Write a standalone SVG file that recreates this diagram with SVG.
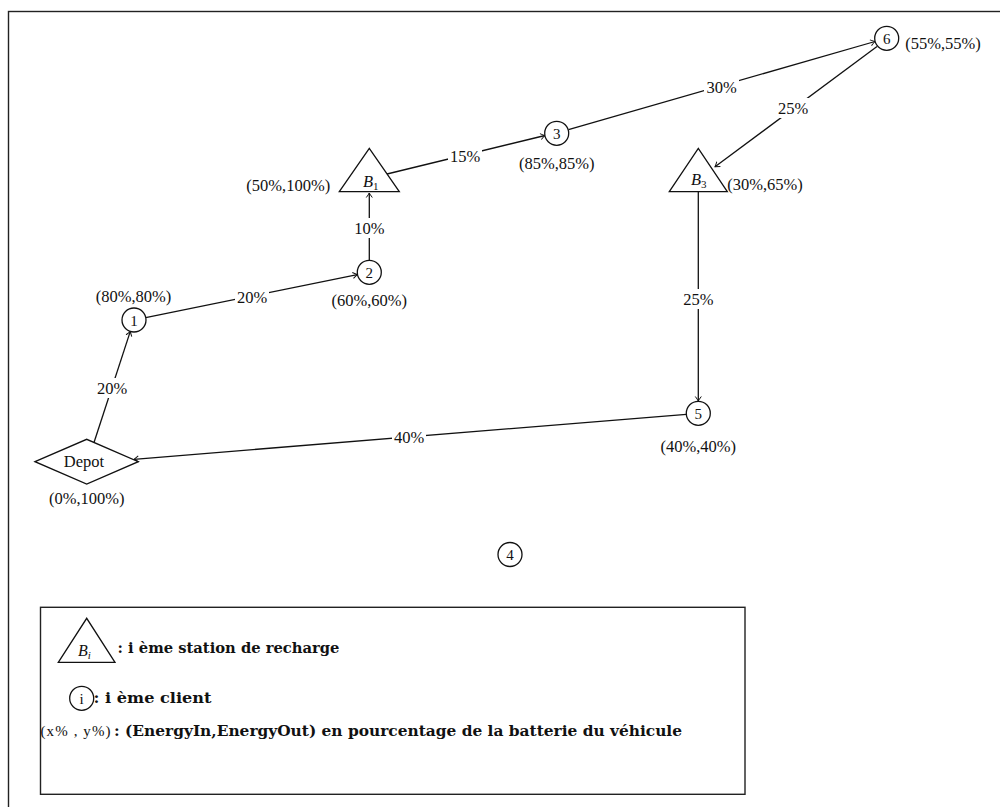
<svg xmlns="http://www.w3.org/2000/svg" width="1000" height="807" viewBox="0 0 1000 807">
<style>
text{font-family:"Liberation Serif","Times New Roman",serif;fill:#111;}
.lbl{font-size:16.5px;text-anchor:middle;dominant-baseline:central;}
.nd{font-size:15px;text-anchor:middle;dominant-baseline:central;}
.shape{fill:#fff;stroke:#111;stroke-width:1.3;}
.edge{fill:none;stroke:#111;stroke-width:1.3;marker-end:url(#arr);}
.bg{fill:#fff;stroke:none;}
.leg{font-family:"DejaVu Serif","Liberation Serif",serif;font-size:14px;font-weight:bold;}
.frame{fill:none;stroke:#222;stroke-width:1.4;}
</style>
<defs>
<marker id="arr" viewBox="-5 -4 6 8" markerWidth="6" markerHeight="8" refX="0" refY="0" orient="auto" markerUnits="userSpaceOnUse">
<path d="M-4.5,-3 Q-1.5,-0.8 0,0 Q-1.5,0.8 -4.5,3" fill="none" stroke="#111" stroke-width="1"/>
</marker>
</defs>
<rect width="1000" height="807" fill="#fff"/>
<rect class="frame" x="8.5" y="11.5" width="1000" height="810"/>

<g id="connectors">
<line class="edge" x1="94" y1="442.5" x2="130.3" y2="331.4"/>
<line class="edge" x1="145.7" y1="317.6" x2="357.3" y2="274.6"/>
<line class="edge" x1="369.3" y1="260.3" x2="369.3" y2="193"/>
<line class="edge" x1="387" y1="174" x2="545" y2="135.5"/>
<line class="edge" x1="568.5" y1="129.7" x2="875" y2="41.5"/>
<line class="edge" x1="877" y1="46.5" x2="715" y2="166.7"/>
<line class="edge" x1="698.3" y1="192" x2="698.3" y2="401"/>
<line class="edge" x1="686.3" y1="414.3" x2="134" y2="459.3"/>
<rect class="bg" x="95" y="378" width="34" height="20"/>
<text class="lbl" x="112" y="388">20%</text>
<rect class="bg" x="235" y="287" width="34" height="20"/>
<text class="lbl" x="252" y="297">20%</text>
<rect class="bg" x="352" y="218" width="34" height="20"/>
<text class="lbl" x="369.3" y="228">10%</text>
<rect class="bg" x="448" y="146" width="34" height="20"/>
<text class="lbl" x="465" y="156">15%</text>
<rect class="bg" x="704" y="77" width="35" height="20"/>
<text class="lbl" x="721.5" y="87">30%</text>
<rect class="bg" x="776" y="98" width="34" height="20"/>
<text class="lbl" x="793" y="108">25%</text>
<rect class="bg" x="681" y="289" width="34" height="20"/>
<text class="lbl" x="698.3" y="299">25%</text>
<rect class="bg" x="392" y="427" width="34" height="20"/>
<text class="lbl" x="409" y="437">40%</text>
</g>

<g id="depot">
<polygon class="shape" points="35,461.7 86.7,439.3 138.3,461.7 86.7,484"/>
<text class="lbl" x="84" y="461.7">Depot</text>
<text class="lbl" x="86.7" y="498.5">(0%,100%)</text>
</g>
<g id="n1">
<circle class="shape" cx="134" cy="320" r="12"/>
<text class="nd" x="134" y="320.5">1</text>
<text class="lbl" x="133.5" y="296.5">(80%,80%)</text>
</g>
<g id="n2">
<circle class="shape" cx="369.3" cy="272.3" r="12"/>
<text class="nd" x="369.3" y="272.8">2</text>
<text class="lbl" x="369.3" y="300">(60%,60%)</text>
</g>
<g id="b1">
<polygon class="shape" points="339.3,191.7 369.3,148.3 399.3,191.7"/>
<text x="363" y="186.5" font-size="16.5" font-style="italic">B<tspan font-size="11" font-style="normal" dy="3">1</tspan></text>
<text class="lbl" x="288.3" y="185">(50%,100%)</text>
</g>
<g id="n3">
<circle class="shape" cx="556.7" cy="133.3" r="12"/>
<text class="nd" x="556.7" y="133.8">3</text>
<text class="lbl" x="556.7" y="163.3">(85%,85%)</text>
</g>
<g id="n6">
<circle class="shape" cx="886.7" cy="38.3" r="12"/>
<text class="nd" x="886.7" y="38.8">6</text>
<text class="lbl" x="943" y="43">(55%,55%)</text>
</g>
<g id="b3">
<polygon class="shape" points="669.3,191.7 698.3,148.3 727.3,191.7"/>
<text x="691" y="185" font-size="16.5" font-style="italic">B<tspan font-size="11" font-style="normal" dy="3">3</tspan></text>
<text class="lbl" x="765" y="184">(30%,65%)</text>
</g>
<g id="n5">
<circle class="shape" cx="698.3" cy="413.3" r="12"/>
<text class="nd" x="698.3" y="413.8">5</text>
<text class="lbl" x="698.3" y="446.7">(40%,40%)</text>
</g>
<g id="n4">
<circle class="shape" cx="510" cy="554.5" r="12"/>
<text class="nd" x="510" y="555">4</text>
</g>

<g id="legend">
<rect class="frame" x="40.5" y="607.3" width="704.5" height="187"/>
<polygon class="shape" points="58.3,662.3 86.7,618.3 115,662.3"/>
<text x="78" y="656" font-size="16" font-style="italic">B<tspan font-size="11" dy="3">i</tspan></text>
<text class="leg" x="117.5" y="652.5" textLength="222" lengthAdjust="spacingAndGlyphs">: i ème station de recharge</text>
<circle class="shape" cx="81.7" cy="698.3" r="12"/>
<text class="nd" x="81.7" y="698.8">i</text>
<text class="leg" x="93.5" y="703" textLength="118" lengthAdjust="spacingAndGlyphs">: i ème client</text>
<text x="40.5" y="735.5" font-size="15" textLength="70" lengthAdjust="spacing">(x% , y%)</text>
<text class="leg" x="114" y="735.5" textLength="568" lengthAdjust="spacingAndGlyphs">: (EnergyIn,EnergyOut) en pourcentage de la batterie du véhicule</text>
</g>
</svg>
